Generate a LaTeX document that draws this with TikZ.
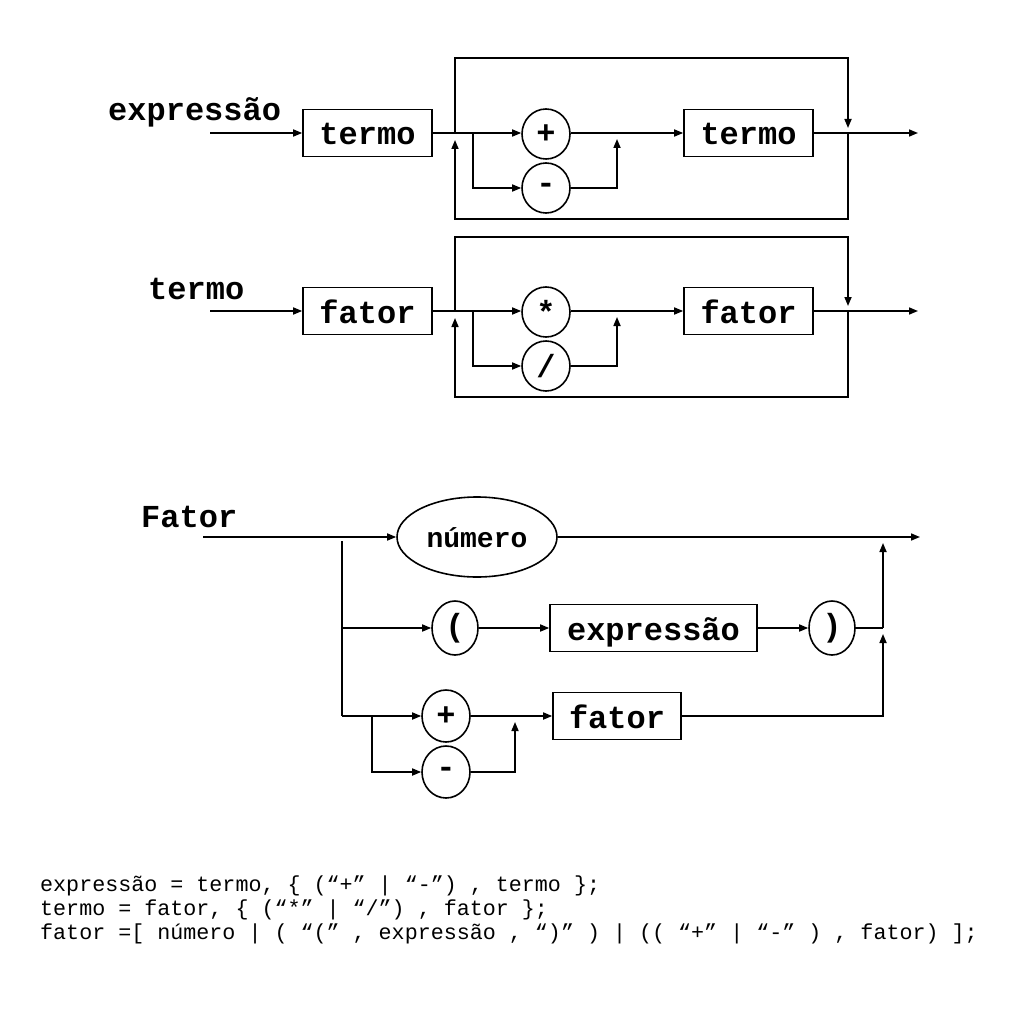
\documentclass[tikz,border=0pt]{standalone}
\usepackage{fontspec}
\usetikzlibrary{arrows.meta,shapes.geometric}
\newfontfamily\dfont{Liberation Mono}
\frenchspacing
\tikzset{
  ln/.style={line width=1.6pt},
  arr/.style={ln,-{Triangle[length=9pt,width=7pt]}},
  big/.style={font=\dfont\bfseries\fontsize{32}{34}\selectfont},
  box/.style={draw,ln,rectangle,inner sep=0pt,minimum width=129pt,minimum height=47pt,big,text height=24pt,text depth=0pt},
  circ/.style={draw,ln,ellipse,inner sep=0pt,minimum width=48pt,minimum height=50pt,big},
  lbl/.style={inner sep=0pt,anchor=base west,big},
  eq/.style={inner sep=0pt,anchor=base west,font=\dfont\fontsize{21.7}{24}\selectfont},
}
\begin{document}
\begin{tikzpicture}[x=1pt,y=-1pt]
\useasboundingbox (0,0) rectangle (1024,1024);

% ---------- expressao ----------
\node[lbl] (L1) at (108,121) {expressão};
\coordinate (s1) at (210,133);
\node[box] (t1) at (367.5,133) {termo};
\node[circ] (p1) at (546,134) {+};
\node[circ] (m1) at (546,188) {-};
\node[box] (t2) at (748.5,133) {termo};
\coordinate (e1) at (918,133);
\coordinate (j1) at (455,133);
\coordinate (tl1) at (455,58);
\coordinate (tr1) at (848,58);
\coordinate (k1) at (848,128);
\coordinate (r1) at (848,133);
\coordinate (br1) at (848,219);
\coordinate (bl1) at (455,219);
\coordinate (b1) at (455,140);
\coordinate (q1) at (473,133);
\coordinate (u1) at (617,139);
\draw[arr] (s1) -- (t1.west);
\draw[arr] (t1.east) -- (p1.west |- t1.east);
\draw[arr] (p1.east |- t2.west) -- (t2.west);
\draw[arr] (t2.east) -- (e1);
\draw[arr] (j1) -- (tl1) -- (tr1) -- (k1);
\draw[arr] (r1) -- (br1) -- (bl1) -- (b1);
\draw[arr] (q1) |- (m1.west);
\draw[arr] (m1.east) -| (u1);

% ---------- termo ----------
\node[lbl] (L2) at (148,299) {termo};
\coordinate (s2) at (210,311);
\node[box] (f1) at (367.5,311) {fator};
\node[circ] (a2) at (546,312) {*};
\node[circ] (d2) at (546,366) {/};
\node[box] (f2) at (748.5,311) {fator};
\coordinate (e2) at (918,311);
\coordinate (j2) at (455,311);
\coordinate (tl2) at (455,237);
\coordinate (tr2) at (848,237);
\coordinate (k2) at (848,306);
\coordinate (r2) at (848,311);
\coordinate (br2) at (848,397);
\coordinate (bl2) at (455,397);
\coordinate (b2) at (455,318);
\coordinate (q2) at (473,311);
\coordinate (u2) at (617,317);
\draw[arr] (s2) -- (f1.west);
\draw[arr] (f1.east) -- (a2.west |- f1.east);
\draw[arr] (a2.east |- f2.west) -- (f2.west);
\draw[arr] (f2.east) -- (e2);
\draw[arr] (j2) -- (tl2) -- (tr2) -- (k2);
\draw[arr] (r2) -- (br2) -- (bl2) -- (b2);
\draw[arr] (q2) |- (d2.west);
\draw[arr] (d2.east) -| (u2);

% ---------- Fator ----------
\node[lbl] (L3) at (141,527) {Fator};
\coordinate (s3) at (203,537);
\node[draw,ln,ellipse,inner sep=0pt,minimum width=160pt,minimum height=80pt,
      font=\dfont\bfseries\fontsize{28}{30}\selectfont,text height=20pt,text depth=0pt] (num) at (477,537) {número};
\coordinate (e3) at (920,537);
\coordinate (v0) at (342,541);
\coordinate (v1) at (342,628);
\coordinate (v2) at (342,716);
\node[circ,minimum width=46pt,minimum height=54pt] (lp) at (455,628) {(};
\node[box,minimum width=207pt] (ex) at (653.5,628) {expressão};
\node[circ,minimum width=46pt,minimum height=54pt] (rp) at (832,628) {)};
\coordinate (g1) at (883,628);
\coordinate (g0) at (883,543);
\coordinate (g2) at (883,716);
\coordinate (g3) at (883,634);
\node[circ,minimum height=52pt] (pl) at (446,716) {+};
\node[circ,minimum height=52pt] (mi) at (446,772) {-};
\node[box,minimum width=128pt] (fa) at (617,716) {fator};
\coordinate (w1) at (372,716);
\coordinate (u3) at (515,722);
\draw[arr] (s3) -- (num.west);
\draw[arr] (num.east) -- (e3);
\draw[ln] (v0) -- (v2);
\draw[arr] (v1) -- (lp.west);
\draw[arr] (lp.east) -- (ex.west);
\draw[arr] (ex.east) -- (rp.west);
\draw[ln] (rp.east) -- (g1);
\draw[arr] (g1) -- (g0);
\draw[arr] (v2) -- (pl.west);
\draw[arr] (pl.east) -- (fa.west);
\draw[arr] (fa.east) -- (g2) -- (g3);
\draw[arr] (w1) |- (mi.west);
\draw[arr] (mi.east) -| (u3);

% ---------- EBNF ----------
\node[eq] (q1t) at (40,891) {expressão = termo, \{ (“+” | “-”) , termo \};};
\node[eq] (q2t) at (40,915) {termo = fator, \{ (“*” | “/”) , fator \};};
\node[eq] (q3t) at (40,939) {fator =[ número | ( “(” , expressão , “)” ) | (( “+” | “-” ) , fator) ];};
\end{tikzpicture}
\end{document}
